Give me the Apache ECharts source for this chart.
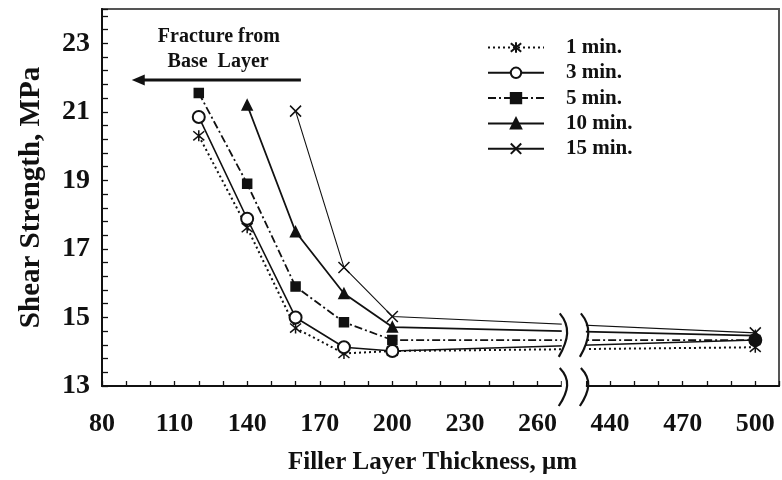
<!DOCTYPE html>
<html><head><meta charset="utf-8">
<script src="https://cdn.jsdelivr.net/npm/echarts@6/dist/echarts.min.js"></script>
<style>html,body{margin:0;padding:0;background:#fff}#c{width:782px;height:480px}</style>
</head><body><div id="c"></div>
<script>
// ---- data ----
const thickness = [120, 140, 160, 180, 200, 500];
const seriesNames = ['1 min.', '3 min.', '5 min.', '10 min.', '15 min.'];
const s1  = [20.30, 17.62, 14.69, 13.95, 14.02, 14.13];
const s3  = [20.85, 17.88, 15.00, 14.13, 14.02, 14.34];
const s5  = [21.55, 18.90, 15.90, 14.86, 14.34, 14.34];
const s10 = [null, 21.20, 17.50, 15.70, 14.72, 14.47];
const s15 = [null, null, 21.02, 16.46, 15.03, 14.55];
const xTickLabels = [80, 110, 140, 170, 200, 230, 260, 440, 470, 500];
const yTickLabels = [13, 15, 17, 19, 21, 23];
const breakFrom = 270, breakTo = 420;
const annText1 = 'Fracture from', annText2 = 'Base  Layer';
const annArrow = { from: [162.2, 21.93], to: [92.3, 21.93] };
const annTextPos = [[128.3, 23.2], [128.0, 22.47]];

// ---- helpers ----
const shift = breakTo - breakFrom;
const toAxis = x => (x > breakFrom ? x - shift : x);
const fromAxis = v => (v > breakFrom ? v + shift : v);
const FONT = '"Liberation Serif", "Times New Roman", serif';
const INK = '#111';
const pts = arr => thickness.map((t, i) => [toAxis(t), arr[i]]);

const SYM_AST = 'path://M0,0L10,10M10,0L0,10M5,-1L5,11';
const SYM_X = 'path://M0,0L10,10M10,0L0,10';

const common = { type: 'line', itemStyle: { color: INK, borderColor: INK, borderWidth: 1.5 }, emphasis: { disabled: true } };
const d3 = pts(s3);
d3[5] = { value: d3[5], itemStyle: { color: INK } };

const series = [
  Object.assign({}, common, { name: seriesNames[0], data: pts(s1), symbol: SYM_AST, symbolSize: 11, lineStyle: { color: INK, width: 2, type: [2, 3] } }),
  Object.assign({}, common, { name: seriesNames[1], data: d3, symbol: 'emptyCircle', symbolSize: 12, lineStyle: { color: INK, width: 1.6 } }),
  Object.assign({}, common, { name: seriesNames[2], data: pts(s5), symbol: 'rect', symbolSize: 9, lineStyle: { color: INK, width: 1.8, type: [8, 3, 2, 3] } }),
  Object.assign({}, common, { name: seriesNames[3], data: pts(s10), symbol: 'triangle', symbolSize: 10, lineStyle: { color: INK, width: 1.8 } }),
  Object.assign({}, common, { name: seriesNames[4], data: pts(s15), symbol: SYM_X, symbolSize: 11, lineStyle: { color: INK, width: 1.1 } })
];

const chart = echarts.init(document.getElementById('c'), null, { renderer: 'canvas' });
const option = {
  animation: false,
  backgroundColor: '#fff',
  grid: { left: 102, right: -4, top: 9, bottom: 92, show: true, borderColor: '#555', borderWidth: 2, backgroundColor: 'transparent' },
  legend: {
    orient: 'vertical', left: 487, top: 37, padding: 0, itemWidth: 56, itemHeight: 13, itemGap: 4.3,
    textStyle: { fontFamily: FONT, fontWeight: 'bold', fontSize: 21, color: INK, lineHeight: 20, padding: [0, 0, 0, 17] },
    data: seriesNames
  },
  xAxis: {
    type: 'value', min: 80, max: 359.8, interval: 10,
    name: 'Filler Layer Thickness, μm', nameLocation: 'middle', nameGap: 64,
    nameTextStyle: { fontFamily: FONT, fontWeight: 'bold', fontSize: 25, color: INK, padding: [0, 16, 0, 0] },
    axisLine: { show: true, onZero: false, lineStyle: { color: INK, width: 2 } },
    axisTick: { show: true, inside: true, length: 5, lineStyle: { color: INK, width: 1.3 } },
    splitLine: { show: false },
    axisLabel: {
      interval: 0, margin: 25, fontFamily: FONT, fontWeight: 'bold', fontSize: 26, color: INK,
      formatter: v => { const r = Math.round(fromAxis(v)); return (Math.abs(v - Math.round(v)) < 1e-6 && xTickLabels.includes(r)) ? String(r) : ''; }
    }
  },
  yAxis: {
    type: 'value', min: 13, max: 24, interval: 0.4,
    name: 'Shear Strength, MPa', nameLocation: 'middle', nameGap: 56, nameRotate: 90,
    nameTextStyle: { fontFamily: FONT, fontWeight: 'bold', fontSize: 29, color: INK },
    axisLine: { show: true, lineStyle: { color: INK, width: 2 } },
    axisTick: { show: true, inside: true, length: 6, lineStyle: { color: INK, width: 1.3 } },
    splitLine: { show: false },
    axisLabel: {
      interval: 0, margin: 12, fontFamily: FONT, fontWeight: 'bold', fontSize: 28, color: INK,
      formatter: v => { const r = Math.round(v); return (Math.abs(v - r) < 1e-6 && yTickLabels.includes(r)) ? String(r) : ''; }
    }
  },
  series: series
};
chart.setOption(option);

// ---- decorations computed through the chart's own coordinate system ----
const P = (x, y) => chart.convertToPixel({ gridIndex: 0 }, [x, y]);
const g = [];
// arrow annotation
const a0 = P(annArrow.from[0], annArrow.from[1]);
const a1 = P(annArrow.to[0], annArrow.to[1]);
g.push({ type: 'line', shape: { x1: a0[0], y1: a0[1], x2: a1[0] + 10, y2: a1[1] }, style: { stroke: INK, lineWidth: 3 }, z: 100 });
g.push({ type: 'polygon', shape: { points: [[a1[0], a1[1]], [a1[0] + 13, a1[1] - 5.5], [a1[0] + 13, a1[1] + 5.5]] }, style: { fill: INK }, z: 100 });
annTextPos.forEach((p, i) => {
  const q = P(p[0], p[1]);
  g.push({ type: 'text', x: q[0], y: q[1], style: { text: i === 0 ? annText1 : annText2, fill: INK, font: 'bold 20px ' + FONT, align: 'center', verticalAlign: 'middle' }, z: 100 });
});
// axis break (breakFrom..breakTo collapsed)
const bx0 = P(breakFrom - 0.4, 13)[0];
const bx1 = P(breakFrom + 10.4, 13)[0];
const wave = (cx, yt, yb) => {
  const h = yb - yt;
  return { x1: cx - 3, y1: yt, cpx1: cx + 8, cpy1: yt + h * 0.3, cpx2: cx + 6, cpy2: yt + h * 0.6, x2: cx - 4, y2: yb };
};
const yl0 = P(0, 15.12)[1], yl1 = P(0, 13.85)[1];
const ya = P(0, 13)[1];
[[yl0, yl1], [ya - 18, ya + 20]].forEach(([t, b]) => {
  g.push({ type: 'rect', shape: { x: bx0 + 1, y: t + 3, width: bx1 - bx0 - 2, height: b - t - 6 }, style: { fill: '#fff' }, z: 99 });
  [bx0 + 2, bx1 - 3].forEach(cx => {
    g.push({ type: 'bezierCurve', shape: wave(cx, t, b), style: { fill: null, stroke: INK, lineWidth: 2.2 }, z: 100 });
  });
});
chart.setOption({ graphic: g });
</script>
</body></html>
